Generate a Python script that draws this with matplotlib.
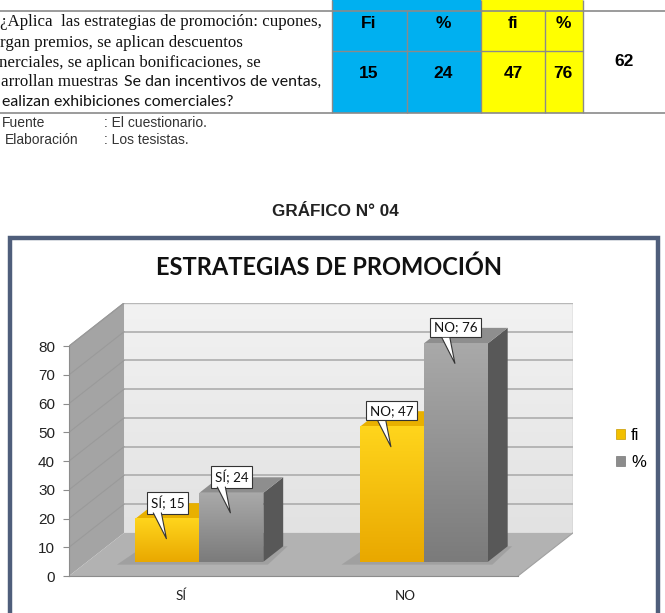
import matplotlib
matplotlib.use("Agg")
import matplotlib.pyplot as plt
import numpy as np
from matplotlib.patches import Polygon, Rectangle, Patch
import matplotlib.transforms as mtransforms
from matplotlib.colors import to_rgb

# ---------------- data ----------------
categories = ["SÍ", "NO"]
series_labels = ["fi", "%"]
fi_values = [15, 47]
pct_values = [24, 76]
y_ticks = [0, 10, 20, 30, 40, 50, 60, 70, 80]

table_headers = ["Fi", "%", "fi", "%"]
table_values = [15, 24, 47, 76]
table_total = 62

question_serif = ["¿Aplica  las estrategias de promoción: cupones,",
                  "rgan premios, se aplican descuentos",
                  "nerciales, se aplican bonificaciones, se",
                  "arrollan muestras"]
question_sans = ["Se dan incentivos de ventas,",
                 "ealizan exhibiciones comerciales?"]
source_labels = ["Fuente", "Elaboración"]
source_values = [": El cuestionario.", ": Los tesistas."]
chart_caption = "GRÁFICO N° 04"
chart_title = "ESTRATEGIAS DE PROMOCIÓN"

plt.rcParams['font.family'] = ['Liberation Sans', 'DejaVu Sans']

W, H = 665, 613
fig = plt.figure(figsize=(W / 100, H / 100), dpi=100)
fig.patch.set_facecolor("white")

# page layer in pixel coordinates (y down)
page = fig.add_axes([0, 0, 1, 1])
page.set_xlim(0, W)
page.set_ylim(H, 0)
page.axis("off")

# ---- table ----
BLUE, YEL, LINE = "#00B0F0", "#FFFF00", "#8a8a8a"
page.add_patch(Rectangle((332, 0), 149, 113, fc=BLUE, ec="none"))
page.add_patch(Rectangle((481, 0), 102, 113, fc=YEL, ec="none"))
page.hlines([10.5, 113], 0, W, color=LINE, lw=1.2)
page.hlines([51], 332, 583, color=LINE, lw=1)
page.vlines([407, 545], 10.5, 113, color=LINE, lw=1)
page.vlines([332, 481, 583], 0, 113, color=LINE, lw=1)

hx = [369, 443, 513, 563]
for x, h in zip(hx, table_headers):
    page.text(x, 23, h, ha="center", va="center", fontsize=12.5, fontweight="bold")
for x, v in zip(hx, table_values):
    page.text(x, 73, str(v), ha="center", va="center", fontsize=12.5, fontweight="bold")
page.text(624, 62, str(table_total), ha="center", va="center", fontsize=12.5, fontweight="bold")

serif = ["Liberation Serif", "DejaVu Serif"]
sans2 = ["Lato", "DejaVu Sans"]
ys = [22, 43, 63, 82, 102]
xs = [0, 0, -1, 1]
tl = None
for i, s in enumerate(question_serif):
    t = page.text(xs[i], ys[i], s, ha="left", va="center", fontsize=12.2, family=serif, color="#111111")
    tl = t
page.annotate(question_sans[0], xy=(1, 0.5), xycoords=tl, xytext=(4, 0), textcoords="offset points",
              ha="left", va="center", fontsize=11.4, family=sans2, color="#111111")
page.text(2, ys[4], question_sans[1], ha="left", va="center", fontsize=11.4, family=sans2, color="#111111")

page.text(2, 123, source_labels[0], ha="left", va="center", fontsize=10, color="#333333")
page.text(5, 140, source_labels[1], ha="left", va="center", fontsize=10, color="#333333")
page.text(104, 123, source_values[0], ha="left", va="center", fontsize=10, color="#333333")
page.text(104, 140, source_values[1], ha="left", va="center", fontsize=10, color="#333333")

page.text(335, 212, chart_caption, ha="center", va="center", fontsize=12.3, fontweight="bold", color="#222222")

# ---- chart frame ----
page.add_patch(Rectangle((9.5, 237.5), 648.5, 420, fc="white", ec="#4F5E7B", lw=3.2))
page.text(329, 267, chart_title, ha="center", va="center", fontsize=17, fontweight="bold",
          family=sans2, color="#111111")

# ---- 3D bar chart ----
DX, DY = 0.245, 15.0       # full depth offset in data units
d0, d1 = 0.33, 0.69        # bar depth range (fraction of full depth)
BW = 0.285                 # bar width (category width = 1)

ax = fig.add_axes([69 / W, (H - 576) / H, 504 / W, 273 / H])
ax.patch.set_alpha(0)


def grad_img(ax, x0, x1, y0, y1, ctop, cbot, z):
    n = 64
    a = np.array(to_rgb(ctop))
    b = np.array(to_rgb(cbot))
    t = np.linspace(0, 1, n)[:, None]
    arr = (a * (1 - t) + b * t)[:, None, :]
    ax.imshow(arr, extent=(x0, x1, y0, y1), origin="upper", aspect="auto",
              interpolation="bilinear", zorder=z)


# walls
grad_img(ax, DX, 2 + DX, DY, 80 + DY, "#F2F2F2", "#E2E2E2", 0.5)
ax.add_patch(Polygon([(0, 0), (DX, DY), (DX, 80 + DY), (0, 80)], closed=True, fc="#A4A4A4", ec="none", zorder=0.6))
ax.add_patch(Polygon([(0, 0), (2, 0), (2 + DX, DY), (DX, DY)], closed=True, fc="#B2B2B2", ec="none", zorder=0.6))
for v in y_ticks[1:]:
    ax.plot([DX, 2 + DX], [v + DY, v + DY], color="#A8A8A8", lw=1.1, zorder=0.7)
    ax.plot([0, DX], [v, v + DY], color="#9A9A9A", lw=0.8, zorder=0.7)
ax.plot([DX, 2 + DX, 2 + DX], [80 + DY, 80 + DY, DY], color="#B8B8B8", lw=1, zorder=0.7)
ax.plot([0, DX], [80, 80 + DY], color="#999999", lw=0.8, zorder=0.7)
ax.plot([2, 2 + DX], [0, DY], color="#A0A0A0", lw=0.8, zorder=0.7)

styles = [
    dict(top="#FFD51C", bot="#E9A800", cap="#E8B000", side="#B88800", leg="#F2C000"),
    dict(top="#A9A9A9", bot="#7B7B7B", cap="#8E8E8E", side="#585858", leg="#8C8C8C"),
]
series = [fi_values, pct_values]

z = 3
for i, cat in enumerate(categories):
    c = i + 0.5
    # soft floor shadow
    ax.add_patch(Polygon([(c - BW - 0.05 + d0 * DX * 0.6, d0 * DY - 1.0),
                          (c + BW + 0.02 + d0 * DX, d0 * DY - 1.0),
                          (c + BW + 0.02 + d1 * DX, d1 * DY),
                          (c - BW - 0.05 + d1 * DX, d1 * DY)],
                         closed=True, fc="#6E6E6E", ec="none", alpha=0.25, zorder=1))
    for j, vals in enumerate(series):
        v = vals[i]
        st = styles[j]
        xa = c - BW + j * BW
        xb = xa + BW
        fx0, fx1 = xa + d0 * DX, xb + d0 * DX
        fy0 = d0 * DY
        # side face
        ax.add_patch(Polygon([(fx1, fy0), (xb + d1 * DX, d1 * DY), (xb + d1 * DX, v + d1 * DY), (fx1, v + fy0)],
                             closed=True, fc=st["side"], ec="none", zorder=z))
        # top face
        ax.add_patch(Polygon([(fx0, v + fy0), (fx1, v + fy0), (xb + d1 * DX, v + d1 * DY), (xa + d1 * DX, v + d1 * DY)],
                             closed=True, fc=st["cap"], ec="none", zorder=z))
        # front face
        grad_img(ax, fx0, fx1, fy0, v + fy0, st["top"], st["bot"], z + 0.5)
        z += 1

# data label callouts
def callout(ax, x, y, text):
    tr_box = mtransforms.offset_copy(ax.transData, fig=fig, x=0, y=16, units="dots")
    ax.text(x, y, text, transform=tr_box, ha="center", va="center", fontsize=9.6, family=sans2,
            color="#111111", zorder=20,
            bbox=dict(boxstyle="square,pad=0.28", fc="white", ec="#333333", lw=0.8))
    tr_px = fig.dpi_scale_trans + mtransforms.ScaledTranslation(x, y, ax.transData)
    pts = np.array([(-14, 5.6), (-6, 5.6), (-1, -20)]) / 100.0
    ax.add_patch(Polygon(pts, closed=True, fc="white", ec="none", transform=tr_px, zorder=21))
    ax.plot(pts[[0, 2, 1], 0], pts[[0, 2, 1], 1], color="#333333", lw=0.8, transform=tr_px, zorder=22)


for i, cat in enumerate(categories):
    c = i + 0.5
    for j, vals in enumerate(series):
        xa = c - BW + j * BW
        callout(ax, xa + BW / 2 + d0 * DX, vals[i] + d0 * DY, f"{cat}; {vals[i]}")

ax.set_xlim(0, 2 + DX)
ax.set_ylim(0, 80 + DY)
for s in ["top", "right"]:
    ax.spines[s].set_visible(False)
ax.spines["left"].set_bounds(0, 80)
ax.spines["bottom"].set_bounds(0, 2)
ax.spines["left"].set_color("#8C8C8C")
ax.spines["bottom"].set_color("#8C8C8C")
ax.spines["left"].set_zorder(2)
ax.spines["bottom"].set_zorder(2)
ax.set_yticks(y_ticks)
ax.set_yticklabels([str(t) for t in y_ticks], fontsize=11, color="#222222")
ax.tick_params(axis="y", length=4, color="#8C8C8C", pad=6)
ax.set_xticks([0.5, 1.5])
ax.set_xticklabels(categories, fontsize=9.6, family=sans2, color="#222222")
ax.tick_params(axis="x", length=0, pad=10)

handles = [Patch(fc=styles[0]["leg"], ec="#C89A00", lw=0.5), Patch(fc=styles[1]["leg"], ec="#777777", lw=0.5)]
fig.legend(handles=handles, labels=series_labels, loc="center left",
           bbox_to_anchor=(601 / W, 1 - 449 / H), frameon=False, fontsize=12,
           handlelength=0.55, handleheight=0.55, handletextpad=0.35, labelspacing=0.75)

fig.savefig("out.png", dpi=100, facecolor="white")
